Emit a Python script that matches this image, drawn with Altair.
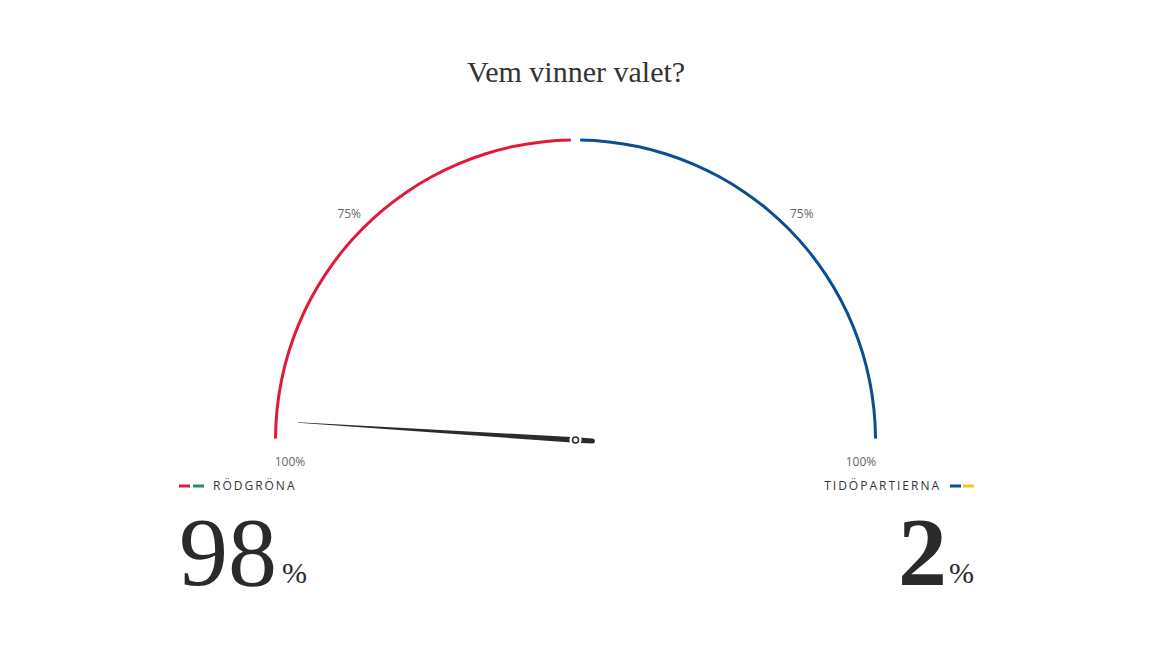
import math
import altair as alt
import pandas as pd

# ---- data ----
title_text = "Vem vinner valet?"
blocs = ["Rödgröna", "Tidöpartierna"]
bloc_labels = ["RÖDGRÖNA", "TIDÖPARTIERNA"]
win_prob = [98, 2]                 # percent chance of winning
gauge_span = [50, 50]              # each bloc owns half of the dial
bloc_colors = ["#e2193a", "#0a4f8f"]
legend_colors_left = ["#e2193a", "#2e8b6a"]
legend_colors_right = ["#0a4f8f", "#f5c518"]
tick_pos = [0, 25, 75, 100]        # position along dial (0 = left end)
tick_text = ["100%", "75%", "75%", "100%"]

# ---- layout constants (pixels, chart coordinates) ----
W, H = 1136, 632
CX, CY = 567.5, 432.0
R = 300.0
SANS = "Open Sans"
SERIF = "Liberation Serif"

# gauge arcs
arc_df = pd.DataFrame({"bloc": blocs, "span": gauge_span, "idx": [0, 1]})
pad = 0.011
arcs = alt.Chart(arc_df).mark_arc(
    innerRadius=R - 1.5, outerRadius=R + 1.5, padAngle=pad * 2, x=CX, y=CY
).encode(
    theta=alt.Theta("span:Q", stack=True,
                    scale=alt.Scale(domain=[0, 100],
                                    range=[-math.pi / 2 - pad, math.pi / 2 + pad])),
    color=alt.Color("bloc:N", scale=alt.Scale(domain=blocs, range=bloc_colors), legend=None),
    order=alt.Order("idx:Q"),
)

# needle (trail) driven by the red bloc's probability
needle_df = pd.DataFrame({
    "share": [win_prob[0]] * 3,
    "d": [278.0, 0.0, -17.0],
    "w": [0.6, 5.5, 5.0],
    "k": [0, 1, 2],
})
ang = "PI * (1 - datum.share / 100)"
needle = alt.Chart(needle_df).mark_trail(color="#2b2b2b").transform_calculate(
    px=f"{CX} - datum.d * cos({ang})",
    py=f"{CY} - datum.d * sin({ang})",
).encode(
    x=alt.X("px:Q", scale=None),
    y=alt.Y("py:Q", scale=None),
    size=alt.Size("w:Q", scale=None, legend=None),
    order=alt.Order("k:Q"),
)

pivot_df = pd.DataFrame({"share": [win_prob[0]]})
pivot_white = alt.Chart(pivot_df).mark_point(
    shape="circle", filled=True, color="white", size=150, opacity=1
).encode(x=alt.value(CX), y=alt.value(CY))
pivot_ring = alt.Chart(pivot_df).mark_point(
    shape="circle", filled=False, stroke="#2b2b2b", strokeWidth=1.5, size=36, fill="white",
    opacity=1
).encode(x=alt.value(CX), y=alt.value(CY))

# tick labels
tick_df = pd.DataFrame({"pos": tick_pos, "label": tick_text})
ticks = alt.Chart(tick_df).mark_text(
    font=SANS, fontSize=12, color="#666666", align="center", baseline="middle"
).transform_calculate(
    a="PI * datum.pos / 100",
    end="datum.pos == 0 || datum.pos == 100",
    px=f"datum.end ? {CX} - 285.5 * cos(datum.a) : {CX} - 320 * cos(datum.a)",
    py=f"datum.end ? {CY} + 22 : {CY} - 320 * sin(datum.a)",
).encode(
    x=alt.X("px:Q", scale=None),
    y=alt.Y("py:Q", scale=None),
    text="label:N",
)

# title
title = alt.Chart(pd.DataFrame({"t": [title_text]})).mark_text(
    font=SERIF, fontSize=30, color="#333333", align="center", baseline="alphabetic"
).encode(x=alt.value(W / 2), y=alt.value(74), text="t:N")

# legend labels
spaced = ["\u2009".join(s) for s in bloc_labels]
leg_df = pd.DataFrame({"label": spaced, "side": ["L", "R"]})
leg_left = alt.Chart(leg_df).transform_filter("datum.side == 'L'").mark_text(
    font=SANS, fontSize=12, fontWeight=500, color="#333333", align="left", baseline="middle"
).encode(x=alt.value(205), y=alt.value(478), text="label:N")
leg_right = alt.Chart(leg_df).transform_filter("datum.side == 'R'").mark_text(
    font=SANS, fontSize=12, fontWeight=500, color="#333333", align="right", baseline="middle"
).encode(x=alt.value(931), y=alt.value(478), text="label:N")

sw_df = pd.DataFrame({
    "c": legend_colors_left + legend_colors_right,
    "x0": [171, 185, 942, 955],
})
swatches = alt.Chart(sw_df).mark_rule(strokeWidth=3).transform_calculate(
    x1="datum.x0 + 11"
).encode(
    x=alt.X("x0:Q", scale=None),
    x2="x1:Q",
    y=alt.value(478),
    color=alt.Color("c:N", scale=None),
)

# big numbers
num_df = pd.DataFrame({"v": [str(v) for v in win_prob], "side": ["L", "R"]})
num_left = alt.Chart(num_df).transform_filter("datum.side == 'L'").mark_text(
    font=SERIF, fontSize=98, color="#2a2a2a", align="right", baseline="alphabetic"
).encode(x=alt.value(269), y=alt.value(577), text="v:N")
num_right = alt.Chart(num_df).transform_filter("datum.side == 'R'").mark_text(
    font=SERIF, fontSize=98, fontWeight="bold", color="#2a2a2a", align="right", baseline="alphabetic"
).encode(x=alt.value(939), y=alt.value(577), text="v:N")
pct_df = pd.DataFrame({"p": ["%", "%"], "side": ["L", "R"]})
pct_left = alt.Chart(pct_df).transform_filter("datum.side == 'L'").mark_text(
    font=SERIF, fontSize=30, color="#2a2a2a", align="left", baseline="alphabetic"
).encode(x=alt.value(274), y=alt.value(575), text="p:N")
pct_right = alt.Chart(pct_df).transform_filter("datum.side == 'R'").mark_text(
    font=SERIF, fontSize=30, color="#2a2a2a", align="left", baseline="alphabetic"
).encode(x=alt.value(941), y=alt.value(575), text="p:N")

chart = alt.layer(
    arcs, needle, pivot_white, pivot_ring, ticks, title,
    swatches, leg_left, leg_right, num_left, num_right, pct_left, pct_right,
).properties(
    width=W, height=H, autosize=alt.AutoSizeParams(type="none"), padding=0
).configure_view(stroke=None)

chart.save("out.html", embed_options={"renderer": "svg", "actions": False})
